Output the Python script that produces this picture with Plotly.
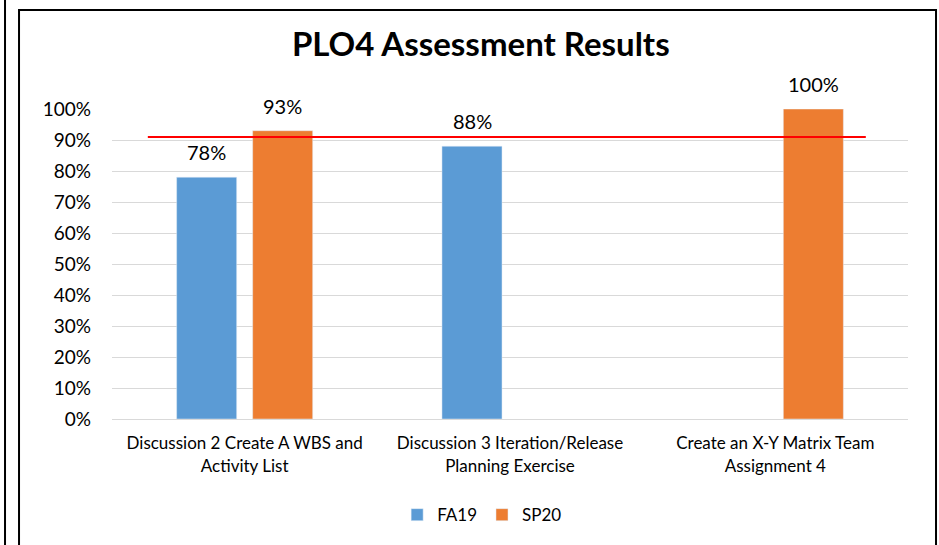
import plotly.graph_objects as go

categories = ["Discussion 2 Create A WBS and<br>Activity List",
              "Discussion 3 Iteration/Release<br>Planning Exercise",
              "Create an X-Y Matrix Team<br>Assignment 4"]
fa19 = [0.78, 0.88, None]
sp20 = [0.93, None, 1.00]
target = 0.91
y_ticks = [0, 0.1, 0.2, 0.3, 0.4, 0.5, 0.6, 0.7, 0.8, 0.9, 1.0]

FONT = "Lato"
fig = go.Figure()
fig.add_trace(go.Bar(name="FA19", x=categories, y=fa19, marker_color="#5B9BD5"))
fig.add_trace(go.Bar(name="SP20", x=categories, y=sp20, marker_color="#ED7D31"))

for vals, shift in ((fa19, -38), (sp20, 38)):
    for c, v in zip(categories, vals):
        if v is None:
            continue
        fig.add_annotation(x=c, y=v, text=f"{round(v*100)}%", showarrow=False,
                           xshift=shift, yshift=25, yanchor="middle",
                           font=dict(family=FONT, size=20, color="#000000"))

# target line
fig.add_shape(type="line", xref="paper", yref="y", x0=0.045, x1=0.947,
              y0=target, y1=target, line=dict(color="#FF0000", width=2))
# outer frame
fig.add_shape(type="rect", xref="paper", yref="paper", x0=-0.1168, x1=1.0352,
              y0=-0.5, y1=1.319, line=dict(color="#000000", width=2))
fig.add_shape(type="line", xref="paper", yref="paper", x0=-0.1344, x1=-0.1344,
              y0=-0.5, y1=1.4, line=dict(color="#000000", width=2))

fig.update_layout(
    width=939, height=545,
    margin=dict(l=112, r=31, t=109, b=126),
    paper_bgcolor="white", plot_bgcolor="white",
    barmode="group", bargap=0.427, bargroupgap=0.21,
    title=dict(text="<b>PLO4 Assessment Results</b>", x=0.512, xanchor="center",
               y=1 - 44/545, yanchor="middle", yref="container",
               font=dict(family=FONT, size=33, color="#000000")),
    font=dict(family=FONT, color="#000000"),
    legend=dict(orientation="h", x=0.465, xanchor="center", y=-0.31, yanchor="middle",
                font=dict(family=FONT, size=17), itemwidth=30, traceorder="normal"),
    showlegend=True,
)
fig.update_yaxes(range=[0, 1.0], tickvals=y_ticks, tickformat=".0%",
                 gridcolor="#D9D9D9", gridwidth=1, zeroline=False, showline=False,
                 tickfont=dict(family=FONT, size=19), ticks="", ticklabelstandoff=20)
fig.update_xaxes(showline=True, linecolor="#D9D9D9", linewidth=1, ticks="",
                 tickfont=dict(family=FONT, size=17), tickangle=0, ticklabelstandoff=9)

fig.write_html("out.html", post_script="document.body.style.margin='0';",
               config={"displayModeBar": False})
